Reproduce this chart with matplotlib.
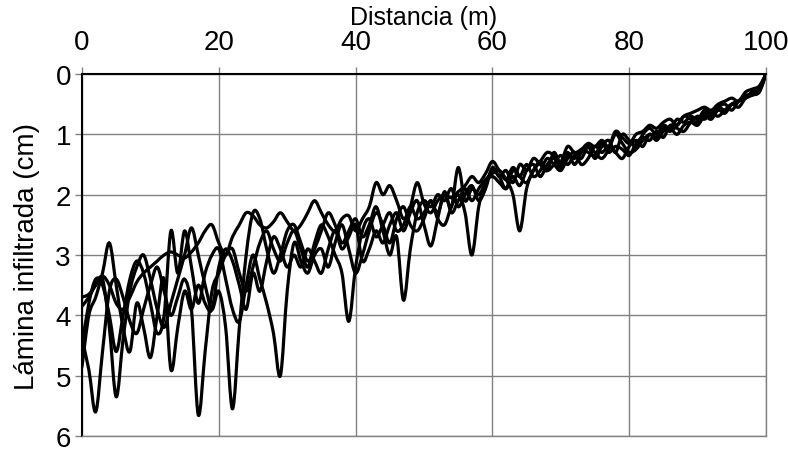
import numpy as np
import matplotlib
matplotlib.use("Agg")
import matplotlib.pyplot as plt
from matplotlib.path import Path
from matplotlib.patches import PathPatch

distancia = list(range(0, 101))

serie1 = [4.4, 4.9, 5.6, 4.6, 3.6, 3.4, 3.7, 4.1, 4.3, 3.9, 3.5,
          3.2, 3.6, 4.0, 3.7, 3.4, 3.9, 5.65, 4.6, 3.6, 3.3,
          3.0, 2.9, 3.3, 3.6, 3.2, 2.8, 2.6, 2.9, 3.1, 2.8,
          2.6, 2.9, 3.2, 2.8, 2.5, 2.7, 3.0, 3.3, 4.1, 3.2,
          2.6, 2.4, 2.7, 2.5, 2.3, 2.6, 2.5, 2.2, 2.4, 2.3,
          2.1, 2.3, 2.0, 2.2, 1.55, 2.1, 1.9, 2.0, 1.8, 1.6,
          1.7, 1.9, 1.6, 1.7, 1.5, 1.7, 1.6, 1.4, 1.5, 1.6,
          1.4, 1.3, 1.5, 1.4, 1.2, 1.3, 1.2, 1.3, 1.4, 1.2,
          1.1, 1.2, 1.0, 1.1, 0.95, 0.9, 1.0, 0.85, 0.8, 0.85,
          0.7, 0.75, 0.6, 0.65, 0.5, 0.45, 0.4, 0.3, 0.25, 0.0]

serie2 = [3.85, 3.7, 3.5, 3.4, 4.2, 5.35, 4.4, 3.6, 3.2, 3.0, 3.4,
          3.9, 4.2, 3.8, 3.4, 3.0, 2.55, 3.0, 3.5, 3.9, 3.6,
          4.2, 5.55, 4.2, 3.0, 2.3, 2.4, 2.9, 3.3, 3.0, 2.6,
          2.5, 2.8, 3.1, 2.9, 2.6, 2.3, 2.5, 2.8, 2.6, 2.4,
          2.7, 2.5, 2.2, 2.6, 3.0, 2.7, 3.75, 2.9, 2.3, 2.1,
          2.2, 2.0, 2.1, 1.9, 2.2, 2.0, 1.85, 2.1, 1.9, 1.55,
          1.7, 1.6, 1.8, 1.5, 1.6, 1.4, 1.5, 1.6, 1.3, 1.5,
          1.3, 1.5, 1.3, 1.2, 1.4, 1.2, 1.1, 1.3, 1.0, 1.1,
          1.2, 1.0, 0.9, 1.0, 0.85, 0.9, 0.75, 0.8, 0.7, 0.75,
          0.6, 0.65, 0.55, 0.5, 0.6, 0.45, 0.35, 0.35, 0.25, 0.0]

serie3 = [4.5, 3.8, 3.4, 3.5, 4.0, 4.6, 4.0, 3.4, 3.1, 3.3, 3.8,
          4.3, 4.0, 2.6, 3.3, 2.6, 3.2, 3.8, 3.3, 3.0, 2.9,
          3.4, 3.9, 4.1, 3.5, 3.0, 3.4, 3.8, 4.3, 5.0, 3.6,
          2.8, 3.1, 3.3, 3.0, 2.9, 3.2, 2.8, 2.5, 2.9, 3.3,
          3.0, 2.6, 2.3, 2.5, 2.8, 2.4, 2.2, 2.5, 2.6, 2.4,
          2.1, 2.4, 2.5, 2.2, 2.0, 2.3, 3.0, 2.2, 1.8, 1.7,
          1.8, 1.9, 1.7, 1.85, 1.6, 1.5, 1.7, 1.5, 1.4, 1.55,
          1.35, 1.4, 1.25, 1.3, 1.35, 1.15, 1.3, 1.2, 1.25, 1.35,
          1.15, 1.05, 1.1, 0.95, 1.05, 0.85, 0.9, 0.95, 0.8, 0.7,
          0.75, 0.65, 0.7, 0.6, 0.5, 0.55, 0.4, 0.3, 0.3, 0.0]

serie4 = [4.85, 4.0, 3.7, 3.3, 2.8, 3.5, 4.2, 4.6, 3.8, 4.2, 4.7,
          4.0, 3.4, 4.9, 4.2, 3.6, 3.9, 3.5, 3.8, 3.9, 3.2,
          2.9, 3.1, 3.5, 3.9, 3.3, 3.6, 3.1, 2.7, 2.9, 3.2,
          3.0, 3.2, 2.9, 3.1, 3.3, 2.9, 2.6, 2.9, 2.7, 2.5,
          3.1, 2.9, 2.6, 2.8, 2.5, 2.3, 2.6, 2.3, 2.1, 2.5,
          2.85, 2.4, 1.95, 2.3, 2.1, 1.9, 2.1, 1.9, 1.75, 1.65,
          1.6, 1.75, 2.0, 2.6, 1.9, 1.6, 1.45, 1.6, 1.5, 1.35,
          1.5, 1.35, 1.4, 1.2, 1.3, 1.4, 1.25, 1.0, 1.15, 1.3,
          1.25, 1.1, 1.0, 1.05, 0.9, 0.95, 0.85, 0.7, 0.75, 0.8,
          0.65, 0.7, 0.55, 0.6, 0.5, 0.45, 0.4, 0.35, 0.3, 0.0]

serie5 = [3.7, 3.65, 3.5, 3.35, 3.5, 3.8, 3.9, 3.7, 3.45, 3.3, 3.2,
          3.1, 3.0, 2.95, 3.0, 3.05, 2.95, 2.8, 2.6, 2.5, 2.8,
          3.0, 2.7, 2.5, 2.3, 2.35, 2.5, 2.55, 2.45, 2.3, 2.45,
          2.6, 2.5, 2.3, 2.1, 2.3, 2.5, 2.6, 2.4, 2.35, 2.6,
          2.4, 2.2, 1.8, 2.0, 1.85, 2.1, 2.4, 2.2, 1.8, 2.15,
          2.3, 2.1, 2.0, 2.05, 1.95, 1.85, 1.7, 1.8, 1.65, 1.45,
          1.6, 1.75, 1.55, 1.7, 1.8, 1.6, 1.45, 1.3, 1.35, 1.45,
          1.2, 1.3, 1.25, 1.15, 1.2, 1.1, 1.2, 0.95, 1.05, 1.15,
          1.0, 0.95, 0.85, 0.9, 0.8, 0.75, 0.85, 0.7, 0.65, 0.6,
          0.55, 0.6, 0.5, 0.45, 0.4, 0.45, 0.3, 0.25, 0.2, 0.0]

series = [serie1, serie2, serie3, serie4, serie5]

x_ticks = [0, 20, 40, 60, 80, 100]
y_ticks = [0, 1, 2, 3, 4, 5, 6]


def smooth_path(xs, ys):
    """Excel-style smoothed line: cubic Bezier segments through every data point."""
    xs = np.asarray(xs, float)
    ys = np.asarray(ys, float)
    n = len(xs)
    verts = [(xs[0], ys[0])]
    codes = [Path.MOVETO]
    for i in range(n - 1):
        x0, y0 = (xs[i - 1], ys[i - 1]) if i > 0 else (xs[i], ys[i])
        x1, y1 = xs[i], ys[i]
        x2, y2 = xs[i + 1], ys[i + 1]
        x3, y3 = (xs[i + 2], ys[i + 2]) if i + 2 < n else (x2, y2)
        c1 = (x1 + (x2 - x0) / 6.0, y1 + (y2 - y0) / 6.0)
        c2 = (x2 - (x3 - x1) / 6.0, y2 - (y3 - y1) / 6.0)
        verts += [c1, c2, (x2, y2)]
        codes += [Path.CURVE4, Path.CURVE4, Path.CURVE4]
    return Path(verts, codes)


regular = ['Liberation Sans', 'DejaVu Sans']
plt.rcParams['font.family'] = regular

fig = plt.figure(figsize=(7.88, 4.52), dpi=100)
ax = fig.add_axes([82/788, 1 - 437/452, (766 - 82)/788, (437 - 75)/452])

for s in series:
    ax.add_patch(PathPatch(smooth_path(distancia, s), facecolor='none',
                           edgecolor='black', lw=2.3, joinstyle='round',
                           capstyle='round', zorder=3))

ax.set_xlim(0, 100)
ax.set_ylim(6, 0)
ax.set_xticks(x_ticks)
ax.set_yticks(y_ticks)
ax.xaxis.tick_top()
ax.xaxis.set_label_position('top')
ax.grid(True, color='#808080', lw=1.0)
ax.tick_params(axis='both', labelsize=20, length=5, width=1, color='#808080')
ax.tick_params(axis='x', pad=9)
ax.tick_params(axis='y', pad=3)
ax.set_xlabel('Distancia (m)', fontsize=18, labelpad=3)
ax.set_ylabel('Lámina infiltrada (cm)', fontsize=20, labelpad=11)
for side in ['top', 'left']:
    ax.spines[side].set_color('black')
    ax.spines[side].set_linewidth(1.5)
for side in ['bottom', 'right']:
    ax.spines[side].set_color('#808080')
    ax.spines[side].set_linewidth(1.0)

fig.savefig('out.png', dpi=100)
